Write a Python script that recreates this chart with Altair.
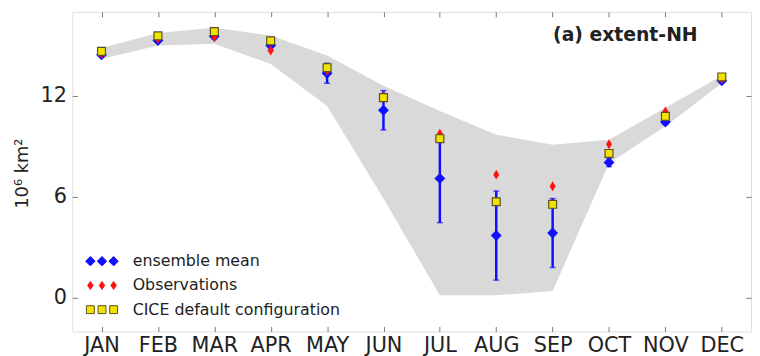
import altair as alt
import pandas as pd

months = ["JAN", "FEB", "MAR", "APR", "MAY", "JUN", "JUL", "AUG", "SEP", "OCT", "NOV", "DEC"]
ens_mean = [14.45, 15.3, 15.55, 15.0, 13.35, 11.15, 7.1, 3.7, 3.85, 8.05, 10.45, 12.9]
ens_err = [0.1, 0.1, 0.15, 0.3, 0.6, 1.17, 2.63, 2.65, 2.05, 0.25, 0.15, 0.1]
obs = [14.5, 15.4, 15.5, 14.7, 13.5, 12.0, 9.75, 7.32, 6.63, 9.13, 11.08, 13.0]
cice = [14.65, 15.57, 15.83, 15.28, 13.68, 11.9, 9.46, 5.71, 5.56, 8.58, 10.79, 13.13]
band_hi = [14.85, 15.75, 16.05, 15.6, 14.4, 12.6, 11.1, 9.7, 9.1, 9.4, 11.3, 13.2]
band_lo = [14.2, 15.0, 15.1, 13.9, 11.4, 5.9, 0.15, 0.15, 0.4, 8.0, 10.2, 12.75]

series = ["ensemble mean", "Observations", "CICE default configuration"]
series_fill = ["#1010ff", "#ff1010", "#f2e200"]
series_stroke = ["#1010ff", "#ff1010", "#5a5020"]

df = pd.DataFrame({
    "month": months, "mean": ens_mean, "err": ens_err, "obs": obs,
    "cice": cice, "hi": band_hi, "lo": band_lo,
})
df["elo"] = df["mean"] - df["err"]
df["ehi"] = df["mean"] + df["err"]

FONT = "DejaVu Sans"
BLUE = "#1010ff"

xscale = alt.Scale(type="point", domain=months, padding=0.518)
yscale = alt.Scale(domain=[-2, 17], nice=False, zero=False)

x_bottom = alt.Axis(orient="bottom", labelAngle=0, labelFontSize=21, labelFont=FONT,
                    labelColor="#222", tickSize={"expr": "-5"}, tickColor="#777",
                    domain=False, title=None, labelPadding=8, grid=False)
y_left = alt.Axis(orient="left", values=[0, 6, 12], labelFontSize=21, labelFont=FONT,
                  labelColor="#222", tickSize={"expr": "-5"}, tickColor="#777",
                  domain=False, grid=False, labelPadding=11,
                  title="10⁶  km²", titleFont=FONT, titleFontSize=18,
                  titleFontWeight="normal", titleColor="#222",
                  titleAngle=-90, titleX=-50, titleY=163, titleAlign="center",
                  titleBaseline="middle")
x_top = alt.Axis(orient="top", labels=False, tickSize={"expr": "-5"}, tickColor="#777",
                 domain=False, title=None, grid=False)
y_right = alt.Axis(orient="right", values=[0, 6, 12], labels=False,
                   tickSize={"expr": "-5"}, tickColor="#777",
                   domain=False, title=None, grid=False)

base = alt.Chart(df)

band = base.mark_area(color="#d9d9d9", opacity=1, interpolate="linear").encode(
    x=alt.X("month:N", scale=xscale, axis=x_bottom, sort=months),
    y=alt.Y("hi:Q", scale=yscale, axis=y_left),
    y2="lo:Q",
)

errbar = base.mark_rule(color=BLUE, strokeWidth=2.5).encode(
    x=alt.X("month:N", scale=xscale, axis=x_top, sort=months),
    y=alt.Y("elo:Q", scale=yscale, axis=y_right),
    y2="ehi:Q",
)

def xy(field):
    return dict(
        x=alt.X("month:N", scale=xscale, sort=months, axis=None),
        y=alt.Y(f"{field}:Q", scale=yscale, axis=None),
    )

cap_lo = base.mark_tick(color=BLUE, orient="horizontal", size=6, thickness=1.5).encode(**xy("elo"))
cap_hi = base.mark_tick(color=BLUE, orient="horizontal", size=6, thickness=1.5).encode(**xy("ehi"))

mean_pts = base.mark_point(shape="diamond", filled=True, size=121, color=BLUE,
                           opacity=1).encode(**xy("mean"))

thin_diamond = "M-0.6,0L0,-1L0.6,0L0,1Z"
obs_pts = base.mark_point(shape=thin_diamond, filled=True, size=100, color="#ff1010",
                          opacity=1).encode(**xy("obs"))

cice_pts = base.mark_point(shape="square", filled=True, size=64, fill="#f2e200",
                           stroke="#5a5020", strokeWidth=1.2, opacity=1).encode(**xy("cice"))

# legend (matplotlib style: three markers per entry)
d = 2.35
def tri(fmt):
    return " ".join(fmt(c) for c in (-d, 0, d))

leg_diamond = tri(lambda c: f"M{c-0.95:.2f},0L{c:.2f},-0.95L{c+0.95:.2f},0L{c:.2f},0.95Z")
leg_thin = tri(lambda c: f"M{c-0.55:.2f},0L{c:.2f},-0.8L{c+0.55:.2f},0L{c:.2f},0.8Z")
leg_square = tri(lambda c: f"M{c-0.8:.2f},-0.8L{c+0.8:.2f},-0.8L{c+0.8:.2f},0.8L{c-0.8:.2f},0.8Z")

legend = alt.Legend(orient="none", legendX=22, legendY=244, padding=0, title=None,
                    symbolSize=100, symbolStrokeWidth=1, labelFontSize=16,
                    labelFont=FONT, labelColor="#222", labelOffset=23, rowPadding=8.5,
                    symbolOffset=0, labelLimit=400)

leg_df = pd.DataFrame({"series": series})
leg_layer = alt.Chart(leg_df).mark_point(filled=True, opacity=1).encode(
    fill=alt.Fill("series:N", scale=alt.Scale(domain=series, range=series_fill), legend=legend),
    stroke=alt.Stroke("series:N", scale=alt.Scale(domain=series, range=series_stroke), legend=legend),
    shape=alt.Shape("series:N", scale=alt.Scale(domain=series, range=[leg_diamond, leg_thin, leg_square]), legend=legend),
).transform_filter("false")

chart = alt.layer(
    band, errbar, cap_lo, cap_hi, mean_pts, obs_pts, cice_pts, leg_layer
).resolve_axis(x="independent", y="independent").properties(
    width=686, height=323,
    autosize=alt.AutoSizeParams(type="none"),
    padding={"left": 65, "top": 2, "right": 1, "bottom": 30},
    title=alt.Title("(a) extent-NH", anchor="end", frame="group", orient="top",
                    font=FONT, fontSize=19, fontWeight="bold", color="#222",
                    dx=-54, dy=47, baseline="middle"),
).configure_view(stroke="#707070", strokeWidth=1.2).configure(background="white")

chart.save("out.html", embed_options={"renderer": "svg", "actions": False})
